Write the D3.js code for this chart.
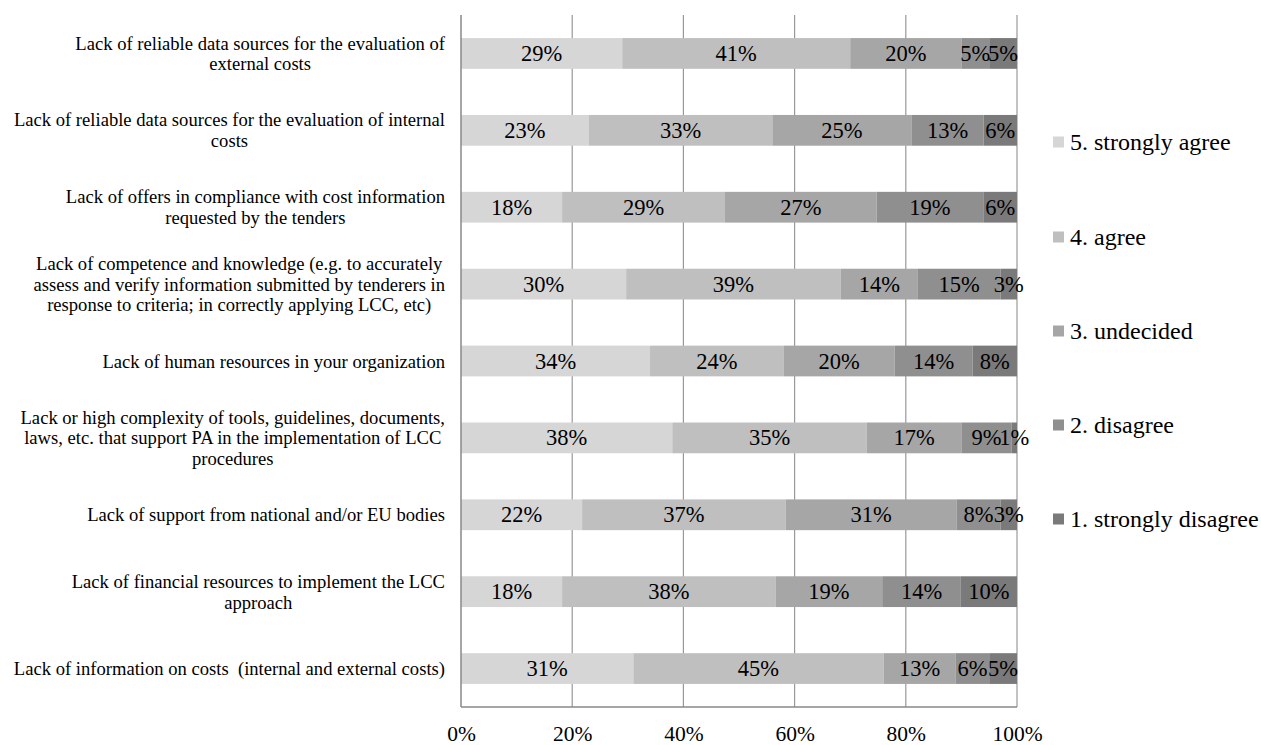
<!DOCTYPE html>
<html><head><meta charset="utf-8">
<script src="https://cdn.jsdelivr.net/npm/d3@7"></script>
<style>
body{margin:0;background:#fff;}
text{font-family:"Liberation Serif","Times New Roman",serif;fill:#000;}
</style></head>
<body><svg id="c" width="1261" height="745"></svg>
<script>
const categories = [
  ["Lack of reliable data sources for the evaluation of","external costs"],
  ["Lack of reliable data sources for the evaluation of internal","costs"],
  ["Lack of offers in compliance with cost information","requested by the tenders"],
  ["Lack of competence and knowledge (e.g. to accurately","assess and verify information submitted by tenderers in","response to criteria; in correctly applying LCC, etc)"],
  ["Lack of human resources in your organization"],
  ["Lack or high complexity of tools, guidelines, documents,","laws, etc. that support PA in the implementation of LCC","procedures"],
  ["Lack of support from national and/or EU bodies"],
  ["Lack of financial resources to implement the LCC","approach"],
  ["Lack of information on costs  (internal and external costs)"]
];
const seriesNames = ["5. strongly agree","4. agree","3. undecided","2. disagree","1. strongly disagree"];
const stronglyAgree    = [29,23,18,30,34,38,22,18,31];
const agree            = [41,33,29,39,24,35,37,38,45];
const undecided        = [20,25,27,14,20,17,31,19,13];
const disagree         = [5,13,19,15,14,9,8,14,6];
const stronglyDisagree = [5,6,6,3,8,1,3,10,5];
const tickValues = [0,0.2,0.4,0.6,0.8,1.0];
const colors = ["#d6d6d6","#bfbfbf","#a6a6a6","#8f8f8f","#7a7a7a"];

(function(){
const series = [stronglyAgree, agree, undecided, disagree, stronglyDisagree];
const svg = d3.select("#c");
const pLeft = 461, pRight = 1017, pTop = 15, pBottom = 707;

const x = d3.scaleLinear().domain([0,1]).range([pLeft,pRight]);
const y = d3.scaleBand().domain(d3.range(categories.length)).range([pTop,pBottom]).paddingInner(0.6).paddingOuter(0.3);

const rows = categories.map((c,i)=>{
  const vals = series.map(s=>s[i]);
  const tot = d3.sum(vals);
  let acc = 0;
  return vals.map((v,k)=>{ const s0 = acc/tot; acc += v; return {i, k, v, x0:s0, x1:acc/tot}; });
});

svg.append("g").selectAll("line").data(tickValues.slice(1)).join("line")
  .attr("x1",d=>x(d)).attr("x2",d=>x(d)).attr("y1",pTop).attr("y2",pBottom)
  .attr("stroke","#999").attr("stroke-width",1.2);

const g = svg.append("g");
rows.forEach(r=>{
  g.selectAll(null).data(r).join("rect")
    .attr("x",d=>x(d.x0)).attr("width",d=>x(d.x1)-x(d.x0))
    .attr("y",d=>y(d.i)).attr("height",y.bandwidth())
    .attr("fill",d=>colors[d.k]);
});
rows.forEach(r=>{
  g.selectAll(null).data(r).join("text")
    .attr("x",d=>(x(d.x0)+x(d.x1))/2).attr("y",d=>y(d.i)+y.bandwidth()/2)
    .attr("text-anchor","middle").attr("dominant-baseline","central")
    .style("font-size","22.5px").text(d=>d.v+"%");
});

svg.append("line").attr("x1",pLeft).attr("x2",pLeft).attr("y1",pTop).attr("y2",pBottom)
  .attr("stroke","#888").attr("stroke-width",1.5);
svg.append("line").attr("x1",pLeft).attr("x2",pRight).attr("y1",pBottom).attr("y2",pBottom)
  .attr("stroke","#888").attr("stroke-width",1.5);

const xa = svg.append("g").attr("transform",`translate(0,${pBottom})`)
  .call(d3.axisBottom(x).tickValues(tickValues).tickSize(0).tickPadding(0).tickFormat(d3.format(".0%")));
xa.select(".domain").remove();
xa.selectAll("text").attr("y",27).attr("dy",null).attr("dominant-baseline","central")
  .style("font-size","21.5px").style("font-family","'Liberation Serif',serif").attr("fill","#000");

const labelRight = 445, lh = 20.7;
categories.forEach((lines,i)=>{
  const cy = y(i)+y.bandwidth()/2;
  const grp = svg.append("g");
  const ts = lines.map((t,j)=>grp.append("text").attr("text-anchor","middle")
      .attr("dominant-baseline","central").style("font-size","18.6px").style("white-space","pre")
      .attr("y", cy + (j-(lines.length-1)/2)*lh).text(t));
  const w = d3.max(ts.map(t=>t.node().getComputedTextLength()));
  ts.forEach(t=>t.attr("x", labelRight - w/2));
});

const legY = [142,237,331,425,519];
const lg = svg.append("g");
seriesNames.forEach((n,k)=>{
  lg.append("rect").attr("x",1053).attr("y",legY[k]-5.5).attr("width",11).attr("height",11).attr("fill",colors[k]);
  lg.append("text").attr("x",1070).attr("y",legY[k]).attr("dominant-baseline","central")
    .style("font-size","24px").text(n);
});
})();
</script></body></html>
